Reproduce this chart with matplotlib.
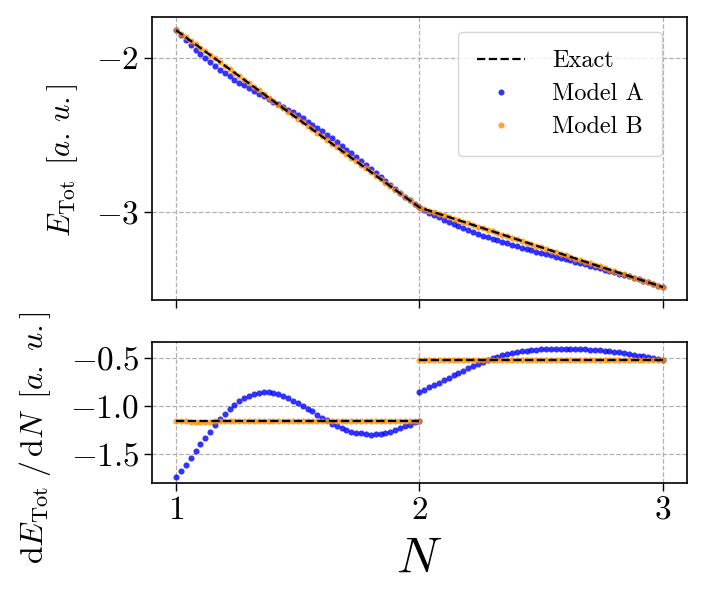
import numpy as np
import matplotlib
matplotlib.use("Agg")
import matplotlib.pyplot as plt

plt.rcParams['font.family'] = 'serif'
plt.rcParams['font.serif'] = ['cmr10', 'DejaVu Serif']
plt.rcParams['mathtext.fontset'] = 'cm'
plt.rcParams['axes.formatter.use_mathtext'] = True
plt.rcParams['axes.unicode_minus'] = True

# ---------------- data ----------------
# particle-number grid for the two integer intervals
N_left = np.linspace(1.0, 2.0, 51)
N_right = np.linspace(2.0, 3.0, 51)

# exact (piecewise linear) reference
N_exact = [1.0, 2.0, 3.0]
E_exact = [-1.820, -2.972, -3.490]
dE_exact_left = [-1.152, -1.152]
dE_exact_right = [-0.518, -0.518]

# Model A total energy
E_A_left = [-1.820, -1.854, -1.887, -1.918, -1.948, -1.977, -2.004, -2.030, -2.054, -2.077,
            -2.099, -2.120, -2.141, -2.161, -2.179, -2.197, -2.215, -2.232, -2.250, -2.267,
            -2.284, -2.301, -2.319, -2.337, -2.355, -2.374, -2.394, -2.414, -2.435, -2.456,
            -2.478, -2.500, -2.524, -2.547, -2.572, -2.596, -2.621, -2.647, -2.673, -2.699,
            -2.725, -2.751, -2.776, -2.802, -2.827, -2.852, -2.877, -2.901, -2.925, -2.949,
            -2.972]
E_A_right = [-2.972, -2.989, -3.006, -3.021, -3.037, -3.052, -3.066, -3.081, -3.094, -3.107,
             -3.120, -3.132, -3.143, -3.155, -3.166, -3.176, -3.186, -3.196, -3.205, -3.215,
             -3.223, -3.233, -3.241, -3.250, -3.259, -3.267, -3.275, -3.284, -3.292, -3.299,
             -3.308, -3.316, -3.325, -3.333, -3.341, -3.350, -3.358, -3.367, -3.376, -3.384,
             -3.393, -3.402, -3.411, -3.420, -3.430, -3.439, -3.450, -3.459, -3.469, -3.480,
             -3.490]

# Model B total energy
E_B_left = [-1.820, -1.843, -1.866, -1.889, -1.912, -1.935, -1.958, -1.981, -2.004, -2.027,
            -2.050, -2.073, -2.096, -2.120, -2.143, -2.166, -2.189, -2.212, -2.235, -2.258,
            -2.281, -2.304, -2.327, -2.350, -2.373, -2.396, -2.419, -2.442, -2.465, -2.488,
            -2.511, -2.534, -2.557, -2.580, -2.603, -2.626, -2.649, -2.672, -2.696, -2.719,
            -2.742, -2.765, -2.788, -2.811, -2.834, -2.857, -2.880, -2.903, -2.926, -2.949,
            -2.972]
E_B_right = [-2.972, -2.982, -2.993, -3.003, -3.013, -3.024, -3.034, -3.045, -3.055, -3.065,
             -3.076, -3.086, -3.096, -3.107, -3.117, -3.127, -3.138, -3.148, -3.158, -3.169,
             -3.179, -3.190, -3.200, -3.210, -3.221, -3.231, -3.241, -3.252, -3.262, -3.272,
             -3.283, -3.293, -3.304, -3.314, -3.324, -3.335, -3.345, -3.355, -3.366, -3.376,
             -3.386, -3.397, -3.407, -3.417, -3.428, -3.438, -3.449, -3.459, -3.469, -3.480,
             -3.490]

# Model A derivative
dE_A_left = [-1.738, -1.676, -1.610, -1.538, -1.469, -1.400, -1.331, -1.266, -1.200, -1.134,
             -1.079, -1.031, -0.990, -0.952, -0.921, -0.897, -0.876, -0.866, -0.859, -0.859,
             -0.862, -0.876, -0.897, -0.921, -0.945, -0.969, -0.997, -1.031, -1.055, -1.090,
             -1.121, -1.148, -1.183, -1.207, -1.231, -1.248, -1.266, -1.279, -1.286, -1.293,
             -1.297, -1.293, -1.290, -1.279, -1.266, -1.248, -1.231, -1.210, -1.193, -1.169,
             -1.159]
dE_A_right = [-0.855, -0.828, -0.803, -0.779, -0.755, -0.728, -0.703, -0.679, -0.655, -0.631,
              -0.607, -0.586, -0.562, -0.545, -0.524, -0.503, -0.486, -0.472, -0.459, -0.445,
              -0.438, -0.431, -0.424, -0.417, -0.414, -0.410, -0.407, -0.407, -0.403, -0.403,
              -0.403, -0.403, -0.407, -0.407, -0.410, -0.414, -0.417, -0.421, -0.428, -0.431,
              -0.438, -0.441, -0.448, -0.459, -0.466, -0.476, -0.483, -0.493, -0.500, -0.510,
              -0.517]

# Model B derivative
dE_B_left = [-1.152, -1.155, -1.160, -1.163, -1.165, -1.166, -1.165, -1.163, -1.160, -1.157,
             -1.155, -1.153, -1.152, -1.152, -1.152, -1.152, -1.153, -1.153, -1.153, -1.152,
             -1.152, -1.152, -1.152, -1.153, -1.153, -1.153, -1.152, -1.152, -1.152, -1.152,
             -1.153, -1.153, -1.152, -1.152, -1.152, -1.152, -1.152, -1.153, -1.153, -1.152,
             -1.152, -1.152, -1.152, -1.152, -1.152, -1.153, -1.153, -1.152, -1.152, -1.152,
             -1.152]
dE_B_right = [-0.518, -0.518, -0.519, -0.519, -0.519, -0.518, -0.518, -0.518, -0.518, -0.518,
              -0.518, -0.518, -0.518, -0.518, -0.518, -0.518, -0.518, -0.518, -0.518, -0.518,
              -0.518, -0.518, -0.518, -0.518, -0.518, -0.518, -0.518, -0.518, -0.518, -0.518,
              -0.518, -0.518, -0.518, -0.518, -0.518, -0.518, -0.518, -0.518, -0.518, -0.518,
              -0.518, -0.518, -0.518, -0.518, -0.518, -0.518, -0.518, -0.518, -0.518, -0.518,
              -0.518]

x_ticks = [1, 2, 3]
top_yticks = [-2, -3]
bot_yticks = [-0.5, -1.0, -1.5]

# ---------------- figure ----------------
W, H = 705, 603
fig = plt.figure(figsize=(W / 100, H / 100), dpi=100)
axw = (687.3 - 151.7)
ax1 = fig.add_axes([151.7 / W, 1 - 300 / H, axw / W, (300 - 17.3) / H])
ax2 = fig.add_axes([151.7 / W, 1 - 483.3 / H, axw / W, (483.3 - 342.3) / H],
                   sharex=ax1)

blue = (0.0, 0.0, 1.0)
orange = '#ff8c00'
ms = 4.4
tick_fs = 24
lab_fs = 22

for ax in (ax1, ax2):
    ax.grid(True, linestyle='--', color='#b0b0b0', linewidth=0.9)
    ax.set_axisbelow(True)
    for sp in ax.spines.values():
        sp.set_linewidth(1.2)
    ax.tick_params(direction='out', length=5.5, width=1.0, labelsize=tick_fs)

# top panel
ax1.plot(N_exact, E_exact, '--', color='black', lw=1.6, zorder=4, label='Exact')
ax1.plot(np.concatenate([N_left, N_right]), E_A_left + E_A_right, 'o', color=blue,
         alpha=0.8, ms=ms, mew=0, zorder=2, label='Model A')
ax1.plot(np.concatenate([N_left, N_right]), E_B_left + E_B_right, 'o', color=orange,
         alpha=0.8, ms=ms, mew=0, zorder=3, label='Model B')
ax1.set_yticks(top_yticks)
ax1.set_ylabel(r'$E_{\mathrm{Tot}}\ \,[a.\,u.]$', fontsize=lab_fs)
ax1.yaxis.set_label_coords((80 - 151.7) / axw, (300 - 160.5) / 282.7)
ax1.tick_params(labelbottom=False)
leg = ax1.legend(loc='upper right', bbox_to_anchor=((662 - 151.7) / axw, 1 - (31.7 - 17.3) / 282.7),
                 borderaxespad=0, fontsize=17.5, numpoints=1, framealpha=0.8,
                 borderpad=0.75, labelspacing=0.45, handletextpad=1.1)

# bottom panel
ax2.plot(N_left, dE_A_left, 'o', color=blue, alpha=0.8, ms=ms, mew=0, zorder=2)
ax2.plot(N_right, dE_A_right, 'o', color=blue, alpha=0.8, ms=ms, mew=0, zorder=2)
ax2.plot(N_left, dE_B_left, 'o', color=orange, alpha=0.8, ms=ms, mew=0, zorder=3)
ax2.plot(N_right, dE_B_right, 'o', color=orange, alpha=0.8, ms=ms, mew=0, zorder=3)
ax2.plot(N_exact[:2], dE_exact_left, '--', color='black', lw=1.6, zorder=4)
ax2.plot(N_exact[1:], dE_exact_right, '--', color='black', lw=1.6, zorder=4)
ax2.set_yticks(bot_yticks)
ax2.set_xticks(x_ticks)
ax2.set_ylabel(r'$\mathrm{d}E_{\mathrm{Tot}}\;/\,\mathrm{d}N\ \,[a.\;u.]$', fontsize=23)
ax2.yaxis.set_label_coords((53 - 151.7) / axw, (483.3 - 437.5) / 141.0)
ax2.set_xlabel(r'$N$', fontsize=36, labelpad=8)

fig.savefig('out.png', dpi=100)
